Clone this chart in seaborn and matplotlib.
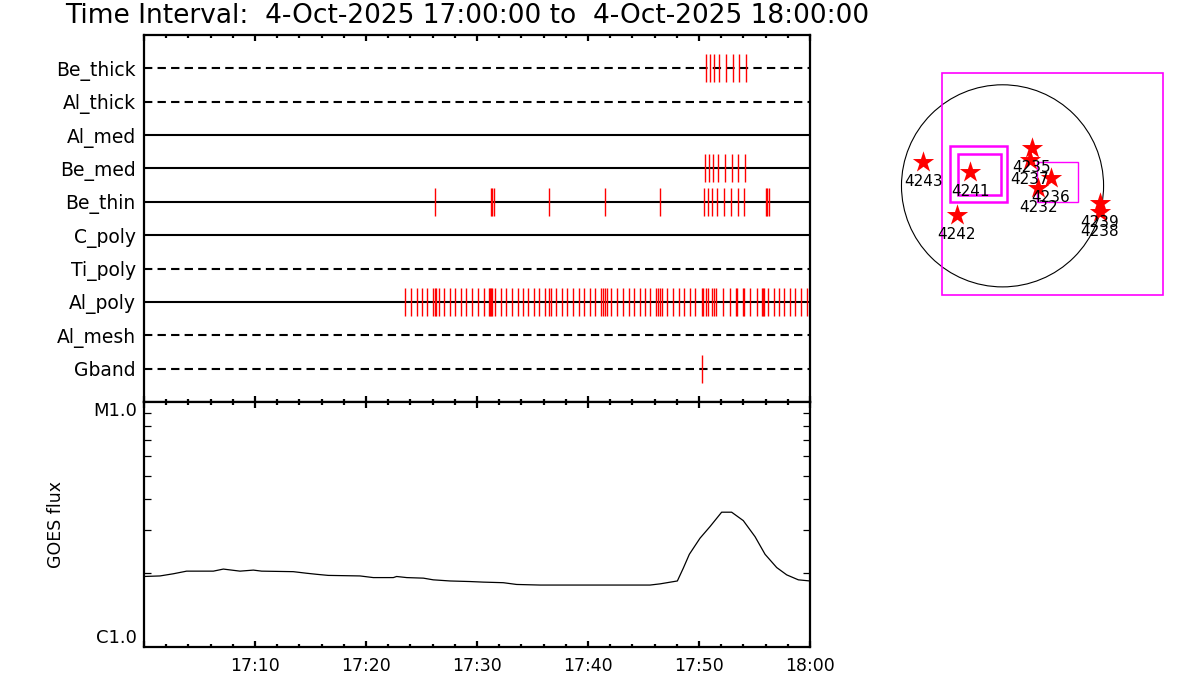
# XRT filter timeline, GOES flux and pointing map for one hour
import numpy as np
import pandas as pd
import seaborn as sns
import matplotlib.pyplot as plt
from matplotlib.patches import Circle, Rectangle
from matplotlib.ticker import LogLocator, NullFormatter, MultipleLocator

# Données : filtres et temps des poses (minutes après 17:00)
filters = ['Be_thick', 'Al_thick', 'Al_med', 'Be_med', 'Be_thin',
           'C_poly', 'Ti_poly', 'Al_poly', 'Al_mesh', 'Gband']

be_thick_times = [50.66, 51.02, 51.38, 51.83, 52.46, 53.09, 53.63, 54.26]
al_thick_times = []
al_med_times = []
be_med_times = [50.57, 50.93, 51.29, 51.74, 52.37, 53.00, 53.54, 54.17]
be_thin_times = [26.23, 31.27, 31.39, 31.54, 36.51, 41.55, 46.51,
                 50.48, 50.84, 51.20, 51.65, 52.28, 52.91, 53.54, 54.08,
                 56.06, 56.12, 56.31]
c_poly_times = []
ti_poly_times = []
al_poly_times = [23.53, 24.04, 24.55, 25.06, 25.52, 26.07, 26.19, 26.31, 26.58,
                 27.05, 27.56, 28.03, 28.53, 29.04, 29.59, 30.10, 30.61, 31.11,
                 31.19, 31.27, 31.39, 31.66, 32.13, 32.64, 33.15, 33.66, 34.12,
                 34.63, 35.14, 35.61, 36.16, 36.47, 36.63, 37.13, 37.64, 38.15,
                 38.66, 39.17, 39.67, 40.18, 40.65, 41.16, 41.39, 41.55, 41.67,
                 42.10, 42.65, 43.15, 43.66, 44.17, 44.64, 45.15, 45.62, 46.12,
                 46.32, 46.51, 46.63, 47.14, 47.65, 48.16, 48.66, 49.17, 49.68,
                 50.23, 50.35, 50.66, 50.81, 51.13, 51.36, 51.52, 52.18, 52.81,
                 53.36, 53.43, 53.98, 54.06, 54.61, 55.19, 55.66, 55.78, 55.90,
                 56.21, 56.72, 57.23, 57.69, 58.21, 58.67, 59.17, 59.73]
al_mesh_times = []
gband_times = [50.31]

# Courbe GOES (minutes, W/m2)
goes_minutes = [0.0, 1.44, 2.64, 3.84, 6.25, 7.15, 8.65, 9.85, 10.6, 13.45,
                14.65, 15.56, 16.6, 19.46, 20.66, 22.46, 22.76, 23.67, 25.17,
                26.06, 27.57, 29.37, 30.57, 32.37, 33.57, 35.68, 45.59, 46.49,
                48.05, 48.59, 49.13, 50.09, 50.99, 52.04, 52.94, 53.99, 55.05,
                55.95, 57.0, 57.9, 58.95, 60.0]
goes_flux = [1.94e-6, 1.95e-6, 1.99e-6, 2.04e-6, 2.04e-6, 2.08e-6, 2.04e-6,
             2.06e-6, 2.04e-6, 2.03e-6, 2.00e-6, 1.98e-6, 1.96e-6, 1.95e-6,
             1.92e-6, 1.92e-6, 1.94e-6, 1.92e-6, 1.91e-6, 1.88e-6, 1.86e-6,
             1.85e-6, 1.84e-6, 1.83e-6, 1.80e-6, 1.79e-6, 1.79e-6, 1.81e-6,
             1.86e-6, 2.10e-6, 2.39e-6, 2.78e-6, 3.10e-6, 3.55e-6, 3.55e-6,
             3.28e-6, 2.82e-6, 2.39e-6, 2.11e-6, 1.97e-6, 1.88e-6, 1.86e-6]
flux_levels = [1e-6, 1e-5]
flux_labels = ['C1.0', 'M1.0']

tick_minutes = [10, 20, 30, 40, 50, 60]
tick_labels = ['17:10', '17:20', '17:30', '17:40', '17:50', '18:00']

# Carte : régions actives (arcsec)
ar_numbers = ['4243', '4241', '4242', '4235', '4237', '4236', '4232', '4239', '4238']
ar_x = [-752, -309, -435, 277, 261, 458, 340, 926, 926]
ar_y = [229, 134, -277, 356, 245, 71, -24, -166, -246]
sun_radius = 960
fov_center = [(475, 16), (-225, 111), (-220, 109), (522, 39)]
fov_size = [(2108, 2108), (542, 529), (412, 392), (395, 380)]

title = 'Time Interval:  4-Oct-2025 17:00:00 to  4-Oct-2025 18:00:00'


def main():
    sns.set_style('white')
    plt.rcParams['font.family'] = ['DejaVu Sans']
    for key in ('text.color', 'axes.labelcolor', 'xtick.color', 'ytick.color'):
        plt.rcParams[key] = 'black'

    fig = plt.figure(figsize=(12, 7), dpi=100)
    W, H = 1200.0, 700.0
    ax1 = fig.add_axes([144 / W, 1 - 402 / H, 666 / W, 367 / H])
    ax2 = fig.add_axes([144 / W, 1 - 647 / H, 666 / W, 245 / H], sharex=ax1)
    ax3 = fig.add_axes([890 / W, 1 - 305 / H, 290 / W, 240 / H])

    # --- Panneau du haut : chronologie des filtres
    all_times = [be_thick_times, al_thick_times, al_med_times, be_med_times,
                 be_thin_times, c_poly_times, ti_poly_times, al_poly_times,
                 al_mesh_times, gband_times]
    dashed_rows = ['Be_thick', 'Al_thick', 'Ti_poly', 'Al_mesh', 'Gband']
    for i, (name, times) in enumerate(zip(filters, all_times)):
        row = i + 1
        ls = (0, (4, 2.5)) if name in dashed_rows else '-'
        ax1.plot([0, 60], [row, row], color='black', lw=1.5, ls=ls, zorder=1)
        if times:
            ax1.vlines(times, row - 0.42, row + 0.42, color='red', lw=1.0, zorder=2)
    ax1.set_ylim(11, 0)
    ax1.set_xlim(0, 60)
    ax1.set_yticks(range(1, 11))
    ax1.set_yticklabels(filters)
    ax1.tick_params(axis='y', length=0, pad=6, labelsize=13.5)

    # --- Panneau du bas : flux GOES
    goes = pd.DataFrame({'minute': goes_minutes, 'flux': goes_flux})
    sns.lineplot(data=goes, x='minute', y='flux', ax=ax2, color='black', lw=0.9)
    ax2.set_yscale('log')
    ax2.set_ylim(1e-6, 1e-5)
    ax2.set_yticks(flux_levels)
    ax2.set_yticklabels([])
    ax2.tick_params(axis='y', which='major', length=0)
    ax2.yaxis.set_minor_locator(LogLocator(base=10, subs=np.arange(2, 10)))
    ax2.yaxis.set_minor_formatter(NullFormatter())
    ax2.tick_params(axis='y', which='minor', direction='in', length=5,
                    width=0.9, left=True, right=True)
    ytr = ax2.get_yaxis_transform()
    for lvl, lab, va in zip(flux_levels, flux_labels, ['bottom', 'top']):
        ax2.text(-0.0105, lvl, lab, transform=ytr, ha='right', va=va, fontsize=13)
    ax2.set_xlabel('')
    ax2.set_ylabel('GOES flux', fontsize=12.5)
    ax2.yaxis.set_label_coords(-0.119, 0.5)

    for ax in (ax1, ax2):
        ax.xaxis.set_major_locator(MultipleLocator(10))
        ax.xaxis.set_minor_locator(MultipleLocator(2))
        ax.tick_params(axis='x', which='both', direction='in', top=True,
                       bottom=True, width=1.6, color='black')
        ax.tick_params(axis='x', which='major', length=4)
        ax.tick_params(axis='x', which='minor', length=2.3)
        for sp in ax.spines.values():
            sp.set_linewidth(1.6)
            sp.set_color('black')
            sp.set_visible(True)
    ax1.tick_params(axis='x', labelbottom=False)
    ax2.set_xticks([0] + tick_minutes)
    ax2.set_xticklabels([''] + tick_labels)
    ax2.tick_params(axis='x', labelsize=12.5, pad=7)
    ax2.set_xlim(0, 60)

    # --- Carte solaire
    ax3.set_xlim(-1069, 1686)
    ax3.set_ylim(-1132, 1148)
    ax3.axis('off')
    ax3.add_patch(Circle((0, 0), sun_radius, fill=False, color='black', lw=0.8))
    for (cx, cy), (w, h), lw in zip(fov_center, fov_size, [1.2, 1.8, 1.8, 1.0]):
        ax3.add_patch(Rectangle((cx - w / 2, cy - h / 2), w, h, fill=False,
                                edgecolor='#ff00ff', lw=lw))
    ax3.scatter(ar_x, ar_y, marker='*', s=260, color='red', linewidths=0, zorder=3)
    for lab, x, y in zip(ar_numbers, ar_x, ar_y):
        ax3.annotate(lab, (x, y), xytext=(0, -14), textcoords='offset points',
                     ha='center', va='center', fontsize=11, zorder=4)

    fig.text(65 / W, 1 - 16 / H, title, ha='left', va='center', fontsize=19)

    fig.savefig('out.png', dpi=100)


if __name__ == '__main__':
    main()
